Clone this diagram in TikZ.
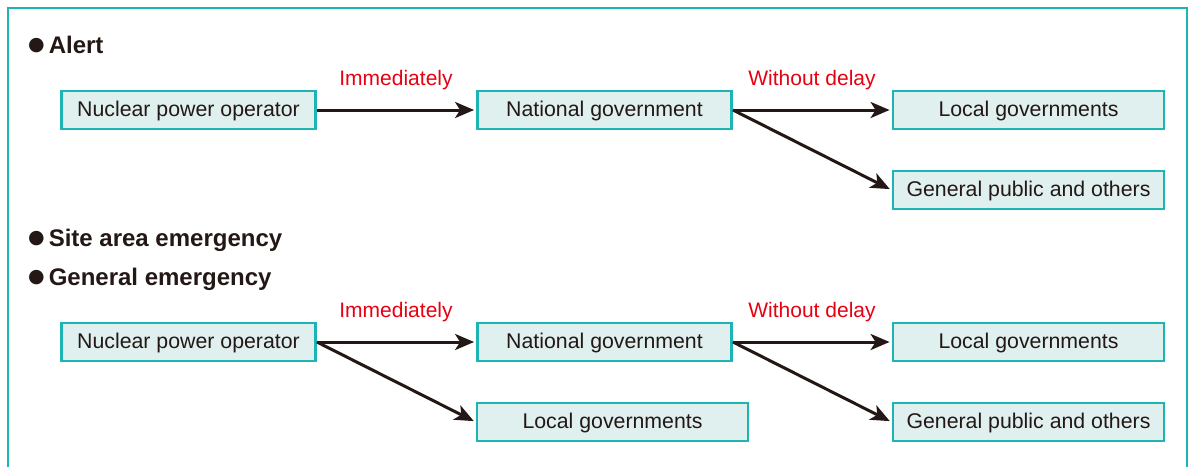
\documentclass[tikz,border=0pt]{standalone}
\usepackage{fontspec}
\setmainfont{Liberation Sans}
\newfontfamily\symfont{DejaVu Sans}
\usetikzlibrary{arrows.meta}
\definecolor{frameteal}{HTML}{1CB4B4}
\definecolor{boxfill}{HTML}{DFF0EF}
\definecolor{inkdark}{HTML}{231815}
\definecolor{notered}{HTML}{E60012}
\newcommand{\headbullet}{\raisebox{2.5pt}{\symfont\fontsize{19}{20}\selectfont ●}\hspace{4pt}}
\tikzset{
  stepbox/.style={draw=frameteal,line width=2.8pt,fill=boxfill,inner sep=0pt,
    minimum height=38pt,text height=15pt,text depth=2.5pt,text=inkdark,font=\fontsize{21.3}{24}\selectfont},
  narrowbox/.style={stepbox,minimum width=254pt},
  widebox/.style={stepbox,minimum width=271pt},
  heading/.style={anchor=base west,inner sep=0pt,text=inkdark,font=\fontsize{24}{27}\selectfont\bfseries},
  timing/.style={anchor=base,inner sep=0pt,text=notered,font=\fontsize{21}{24}\selectfont},
  flow/.style={draw=inkdark,line width=3pt,-{Stealth[length=19pt,width=16pt,inset=5pt]},shorten >=2pt}
}
\begin{document}
\begin{tikzpicture}[x=1pt,y=-1pt]
    \useasboundingbox (0,0) rectangle (1189,466);
    \draw[frameteal,line width=2.2pt](8,470) -- (8,8) -- (1187,8) -- (1187,470);
    % alert
    \node[heading] (alert) at (28,53) {\headbullet Alert};
    \node[narrowbox] (op1) at (188.5,110) {Nuclear power operator};
    \node[narrowbox] (nat1) at (604.5,110) {National government};
    \node[widebox] (loc1) at (1028.5,110) {Local governments};
    \node[widebox] (pub1) at (1028.5,190) {General public and others};
    \node[timing] (imm1) at (396,85) {Immediately};
    \node[timing] (del1) at (812,85) {Without delay};
    \draw[flow](op1.east) -- (nat1.west);
    \draw[flow](nat1.east) -- (loc1.west);
    \draw[flow](nat1.east) -- (pub1.west);
    % emergencies
    \node[heading] (site) at (28,246) {\headbullet Site area emergency};
    \node[heading] (gen) at (28,285) {\headbullet General emergency};
    \node[narrowbox] (op2) at (188.5,342) {Nuclear power operator};
    \node[narrowbox] (nat2) at (604.5,342) {National government};
    \node[widebox] (loc2) at (612.5,422) {Local governments};
    \node[widebox] (loc3) at (1028.5,342) {Local governments};
    \node[widebox] (pub2) at (1028.5,422) {General public and others};
    \node[timing] (imm2) at (396,317) {Immediately};
    \node[timing] (del2) at (812,317) {Without delay};
    \draw[flow](op2.east) -- (nat2.west);
    \draw[flow](op2.east) -- (loc2.west);
    \draw[flow](nat2.east) -- (loc3.west);
    \draw[flow](nat2.east) -- (pub2.west);
\end{tikzpicture}
\end{document}
